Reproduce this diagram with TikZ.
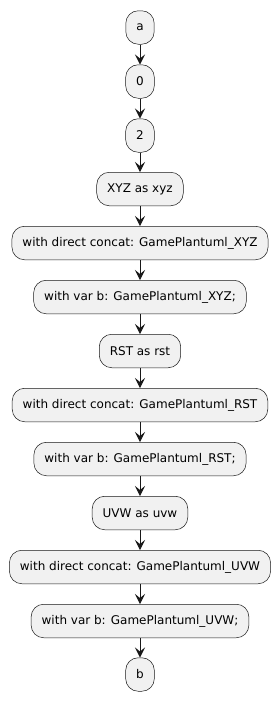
\documentclass[tikz,border=0pt]{standalone}
\usepackage{fontspec}
\setmainfont{DejaVu Sans}
\usepackage{tikz}
\usetikzlibrary{arrows.meta}
\definecolor{actfill}{HTML}{F1F1F1}
\definecolor{actline}{HTML}{181818}
\tikzstyle{action} = [draw=actline, line width=0.5pt, fill=actfill, rounded corners=12.5pt, minimum height=33.5pt, minimum width=28pt, inner xsep=10.5pt, font=\fontsize{12}{14}\selectfont]
\tikzstyle{arrow} = [-{Stealth[length=10pt, width=10pt, inset=4pt]}, line width=1pt, actline]

\begin{document}
\begin{tikzpicture}[x=1pt, y=-1pt]
\useasboundingbox (0,0) rectangle (280,702);

% activity boxes, one under the other
\foreach \y/\name/\txt in {27.5/a/a, 81.5/n0/0, 135.5/n2/2, 189/xyz/XYZ as xyz,
  243/xyzcat/{with direct concat: GamePlantuml\_XYZ}, 297/xyzvar/{with var b: GamePlantuml\_XYZ;},
  351/rst/RST as rst, 405/rstcat/{with direct concat: GamePlantuml\_RST},
  459/rstvar/{with var b: GamePlantuml\_RST;}, 513/uvw/UVW as uvw,
  567/uvwcat/{with direct concat: GamePlantuml\_UVW}, 621/uvwvar/{with var b: GamePlantuml\_UVW;},
  674.5/b/b}{
  \node[action] (\name) at (140,\y) {\txt};
}

\foreach \from/\to in {a/n0, n0/n2, n2/xyz, xyz/xyzcat, xyzcat/xyzvar, xyzvar/rst, rst/rstcat,
  rstcat/rstvar, rstvar/uvw, uvw/uvwcat, uvwcat/uvwvar, uvwvar/b}
  \draw[arrow] (\from) -- (\to);
\end{tikzpicture}
\end{document}
